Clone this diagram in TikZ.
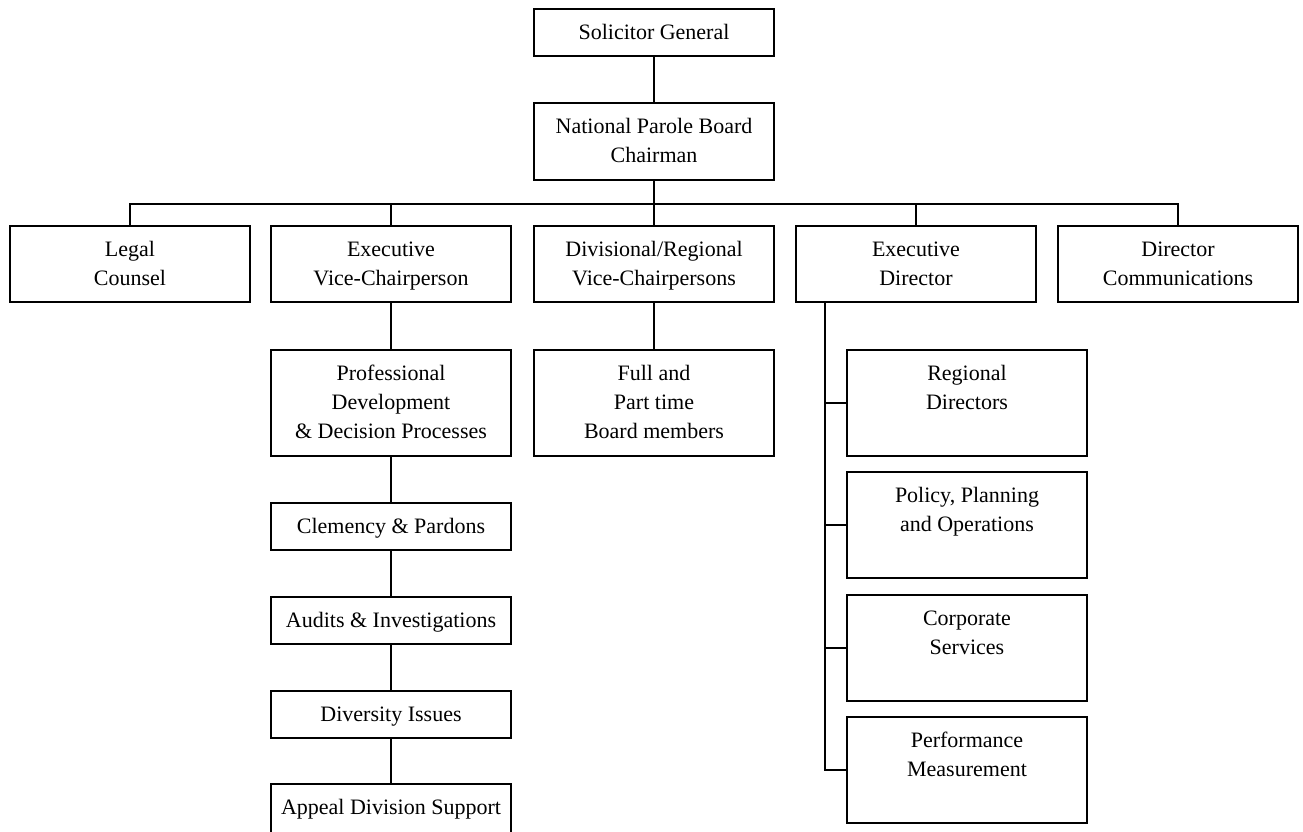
\documentclass[tikz,border=0pt]{standalone}
\usepackage{fontspec}
\setmainfont{Liberation Serif}
\newcommand{\bxt}[3]{\parbox[c][#2][t]{#1}{\centering\rule{0pt}{30pt}#3\par}}
\begin{document}
\begin{tikzpicture}[x=1pt,y=-1pt,
  every node/.style={font=\fontsize{22}{29}\selectfont},
  orgbox/.style={draw=black, line width=2pt, inner sep=0pt, fill=white},
  conn/.style={draw=black, line width=2pt}]
\useasboundingbox (0,0) rectangle (1303,831);
\clip (0,0) rectangle (1303,831);
% top
\node[orgbox] (sg) at (654,32.5) {\bxt{240pt}{47pt}{Solicitor General}};
\node[orgbox] (ch) at (654,141.5) {\bxt{240pt}{77pt}{National Parole Board\\Chairman}};
% first row
\node[orgbox] (lc) at (130,264) {\bxt{240pt}{76pt}{Legal\\Counsel}};
\node[orgbox] (evc) at (391,264) {\bxt{240pt}{76pt}{Executive\\Vice-Chairperson}};
\node[orgbox] (dv) at (654,264) {\bxt{240pt}{76pt}{Divisional/Regional\\Vice-Chairpersons}};
\node[orgbox] (ed) at (916,264) {\bxt{240pt}{76pt}{Executive\\Director}};
\node[orgbox] (dc) at (1178,264) {\bxt{240pt}{76pt}{Director\\Communications}};
% left column
\node[orgbox] (pd) at (391,403) {\bxt{240pt}{106pt}{Professional\\Development\\\& Decision Processes}};
\node[orgbox] (cp) at (391,526.5) {\bxt{240pt}{47pt}{Clemency \& Pardons}};
\node[orgbox] (ai) at (391,620.5) {\bxt{240pt}{47pt}{Audits \& Investigations}};
\node[orgbox] (di) at (391,714.5) {\bxt{240pt}{47pt}{Diversity Issues}};
\node[orgbox] (ap) at (391,810) {\bxt{240pt}{52pt}{Appeal Division Support}};
% middle
\node[orgbox] (fp) at (654,403) {\bxt{240pt}{106pt}{Full and\\Part time\\Board members}};
% right column
\node[orgbox] (rd) at (967,403) {\bxt{240pt}{106pt}{Regional\\Directors}};
\node[orgbox] (pp) at (967,525) {\bxt{240pt}{106pt}{Policy, Planning\\and Operations}};
\node[orgbox] (cs) at (967,648) {\bxt{240pt}{106pt}{Corporate\\Services}};
\node[orgbox] (pm) at (967,770) {\bxt{240pt}{106pt}{Performance\\Measurement}};
% connectors
\coordinate (bus) at (654,204);
\draw[conn] (sg) -- (ch);
\draw[conn] (ch.south) -- (dv.north);
\draw[conn] (lc.north) -- (lc.north |- bus) -- (dc.north |- bus) -- (dc.north);
\draw[conn] (evc.north) -- (evc.north |- bus);
\draw[conn] (ed.north) -- (ed.north |- bus);
\draw[conn] (evc) -- (pd);
\draw[conn] (pd) -- (cp);
\draw[conn] (cp) -- (ai);
\draw[conn] (ai) -- (di);
\draw[conn] (di) -- (ap);
\draw[conn] (dv) -- (fp);
\coordinate (spt) at ([xshift=30pt]ed.south west);
\draw[conn] (spt) -- (spt |- pm.west) -- (pm.west);
\draw[conn] (rd.west) -- (rd.west -| spt);
\draw[conn] (pp.west) -- (pp.west -| spt);
\draw[conn] (cs.west) -- (cs.west -| spt);
\end{tikzpicture}
\end{document}
